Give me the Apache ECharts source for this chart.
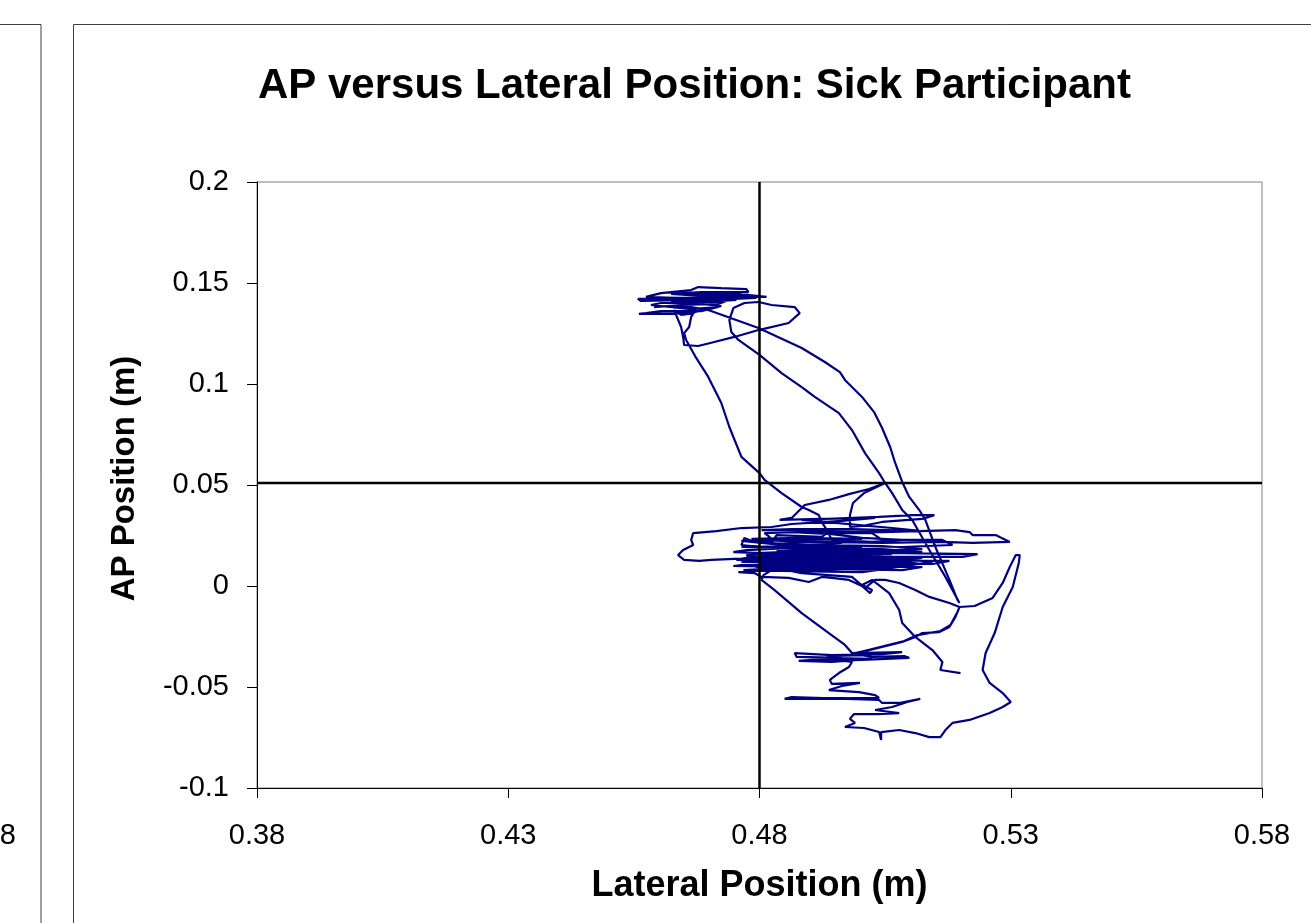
<!DOCTYPE html>
<html>
<head>
<meta charset="utf-8">
<title>AP versus Lateral Position: Sick Participant</title>
<script src="https://cdn.jsdelivr.net/npm/echarts@6/dist/echarts.min.js"></script>
<style>
  html, body { margin: 0; padding: 0; background: #fff; }
  #main { width: 1311px; height: 923px; }
</style>
</head>
<body>
<div id="main"></div>
<script>
// tick labels
var xTicks = [0.38, 0.43, 0.48, 0.53, 0.58];
var yTicks = [-0.1, -0.05, 0, 0.05, 0.1, 0.15, 0.2];

// reference cross (lateral 0.48, AP 0.051)
var crossLateral = 0.48;
var crossAP = 0.051;

// trajectory, [lateral, AP] in metres, in drawing order
var startTail = [[0.5200,-0.0431],[0.5160,-0.0416],[0.5164,-0.0376],[0.5144,-0.0317],[0.5110,-0.0252],[0.5084,-0.0183],[0.5078,-0.0119],[0.5058,-0.0035],[0.5024,0.0030]];

var centreA = [[0.5004,0.0005],[0.5024,-0.0020],[0.5020,-0.0035],[0.5004,0.0000],[0.4978,0.0030],[0.4944,0.0040],[0.4924,0.0045],[0.4898,0.0020],[0.4858,0.0040],[0.4804,0.0045],[0.4790,0.0064],[0.4758,0.0069],[0.4804,0.0079],[0.4944,0.0084],[0.5084,0.0079],[0.5124,0.0094],[0.4984,0.0099],[0.4864,0.0094],[0.4748,0.0099],[0.4764,0.0104],[0.4884,0.0109],[0.5024,0.0114],[0.5144,0.0109],[0.5178,0.0124],[0.5004,0.0129],[0.4844,0.0124],[0.4754,0.0129],[0.4784,0.0144],[0.4924,0.0149],[0.5064,0.0144],[0.5204,0.0144],[0.5234,0.0158],[0.5084,0.0163],[0.4944,0.0168],[0.4804,0.0163],[0.4748,0.0168],[0.4774,0.0178],[0.4864,0.0188],[0.4984,0.0198],[0.5084,0.0193],[0.5184,0.0203],[0.5164,0.0228],[0.5044,0.0228],[0.5024,0.0262],[0.4934,0.0262],[0.4924,0.0243],[0.4834,0.0252],[0.4824,0.0213],[0.4884,0.0203],[0.5004,0.0183],[0.5104,0.0173],[0.5024,0.0153],[0.4884,0.0144],[0.4814,0.0139],[0.4864,0.0129],[0.4984,0.0119],[0.5044,0.0104],[0.4944,0.0099],[0.4844,0.0104]];

// dense core of the central cluster
var centreD = [[0.4814,0.0084],[0.5064,0.0084],[0.5044,0.0094],[0.4794,0.0094],[0.4784,0.0104],[0.5004,0.0104],[0.5084,0.0109],[0.4834,0.0114],[0.4774,0.0119],[0.4964,0.0119],[0.5104,0.0124],[0.4884,0.0129],[0.4790,0.0134],[0.5044,0.0134],[0.5124,0.0139],[0.4944,0.0144],[0.4804,0.0149],[0.4864,0.0153],[0.5064,0.0158],[0.4924,0.0158],[0.4794,0.0163],[0.4844,0.0168],[0.5024,0.0173],[0.5084,0.0178],[0.4904,0.0183],[0.4814,0.0188],[0.4884,0.0193],[0.5004,0.0188],[0.4944,0.0178],[0.4834,0.0173],[0.4904,0.0163],[0.5044,0.0153],[0.4964,0.0144],[0.4824,0.0139],[0.4924,0.0129],[0.5084,0.0124],[0.5004,0.0114],[0.4854,0.0109],[0.4824,0.0099],[0.4984,0.0094],[0.4904,0.0089],[0.4824,0.0079],[0.4808,0.0054],[0.4804,0.0030]];

var diagDown = [[0.4830,-0.0020],[0.4884,-0.0134],[0.4938,-0.0233],[0.4970,-0.0292],[0.4984,-0.0332]];

var lowCluster = [[0.5084,-0.0327],[0.5044,-0.0337],[0.4944,-0.0342],[0.4870,-0.0332],[0.4874,-0.0351],[0.4964,-0.0356],[0.4934,-0.0347],[0.5004,-0.0342],[0.5024,-0.0351],[0.5088,-0.0347],[0.5098,-0.0356],[0.5004,-0.0366],[0.4904,-0.0366],[0.4878,-0.0371],[0.4944,-0.0376],[0.5024,-0.0361],[0.4924,-0.0356],[0.4984,-0.0376]];

var lowerLobe = [[0.4978,-0.0401],[0.4958,-0.0431],[0.4940,-0.0465],[0.4944,-0.0485],[0.5000,-0.0480],[0.4964,-0.0495],[0.4938,-0.0515],[0.4998,-0.0525],[0.5030,-0.0540],[0.5038,-0.0554],[0.4850,-0.0559],[0.4864,-0.0550],[0.5038,-0.0564],[0.5044,-0.0579],[0.5078,-0.0579],[0.5120,-0.0559],[0.5094,-0.0574],[0.5064,-0.0599],[0.5030,-0.0614],[0.5078,-0.0629],[0.5034,-0.0634],[0.4988,-0.0634],[0.4980,-0.0658],[0.4990,-0.0678],[0.4970,-0.0698],[0.5008,-0.0703],[0.5038,-0.0723],[0.5042,-0.0762],[0.5042,-0.0723],[0.5078,-0.0713],[0.5110,-0.0728],[0.5138,-0.0748],[0.5160,-0.0748],[0.5170,-0.0713],[0.5184,-0.0678],[0.5218,-0.0663],[0.5258,-0.0629],[0.5284,-0.0599],[0.5300,-0.0574],[0.5284,-0.0530],[0.5258,-0.0480],[0.5244,-0.0416],[0.5250,-0.0332],[0.5268,-0.0233],[0.5284,-0.0104],[0.5304,-0.0005],[0.5316,0.0114],[0.5318,0.0153],[0.5310,0.0153],[0.5298,0.0094],[0.5284,0.0015],[0.5264,-0.0059],[0.5228,-0.0099],[0.5198,-0.0104]];

var junctionLeft = [[0.5190,-0.0153],[0.5178,-0.0203],[0.5158,-0.0228],[0.5124,-0.0233],[0.5110,-0.0252],[0.5084,-0.0277],[0.5044,-0.0302],[0.5004,-0.0327],[0.4984,-0.0337],[0.5008,-0.0322],[0.5048,-0.0297],[0.5088,-0.0272],[0.5114,-0.0243],[0.5160,-0.0223],[0.5180,-0.0193],[0.5194,-0.0129],[0.5198,-0.0104]];

var upToCentre = [[0.5178,-0.0084],[0.5138,-0.0054],[0.5110,-0.0020],[0.5078,0.0015],[0.5050,0.0030]];

var centreB = [[0.5030,0.0030],[0.5010,-0.0010],[0.4984,0.0045],[0.4884,0.0064],[0.4864,0.0074],[0.5004,0.0069],[0.5064,0.0089],[0.5144,0.0119],[0.5084,0.0134],[0.4964,0.0139],[0.4844,0.0149],[0.4804,0.0153],[0.4884,0.0163],[0.5044,0.0178],[0.5124,0.0183],[0.5044,0.0198],[0.4924,0.0203],[0.4824,0.0208],[0.4764,0.0223],[0.4904,0.0228],[0.5004,0.0233],[0.4884,0.0238],[0.4784,0.0233],[0.4844,0.0223],[0.4964,0.0213],[0.4864,0.0198],[0.4764,0.0193],[0.4924,0.0188],[0.4824,0.0208],[0.4924,0.0218],[0.5044,0.0213],[0.5164,0.0218],[0.5224,0.0213],[0.5298,0.0218],[0.5270,0.0252],[0.5224,0.0252],[0.5218,0.0267],[0.5190,0.0277],[0.5044,0.0267],[0.4904,0.0272],[0.4804,0.0277],[0.4864,0.0282],[0.4984,0.0282],[0.5124,0.0272],[0.5064,0.0287],[0.4884,0.0327],[0.5038,0.0342],[0.5104,0.0351],[0.5148,0.0351],[0.5124,0.0332],[0.5044,0.0317],[0.5004,0.0297],[0.4980,0.0292],[0.4980,0.0351],[0.4986,0.0411],[0.5008,0.0460],[0.5050,0.0510]];

var pathADown = [[0.5064,0.0460],[0.5084,0.0376],[0.5104,0.0327],[0.5138,0.0178],[0.5170,0.0045],[0.5198,-0.0084]];

var pathBUp = [[0.5194,-0.0069],[0.5178,0.0030],[0.5150,0.0193],[0.5130,0.0327],[0.5118,0.0376],[0.5098,0.0441],[0.5084,0.0515],[0.5070,0.0609],[0.5060,0.0688],[0.5044,0.0782],[0.5028,0.0861],[0.5004,0.0936],[0.4970,0.1020],[0.4960,0.1059],[0.4930,0.1109],[0.4884,0.1178],[0.4798,0.1277],[0.4698,0.1366]];

var topA = [[0.4664,0.1381],[0.4604,0.1386],[0.4590,0.1381],[0.4644,0.1391],[0.4718,0.1396],[0.4734,0.1411],[0.4664,0.1416],[0.4564,0.1411],[0.4558,0.1421],[0.4644,0.1426],[0.4764,0.1431],[0.4814,0.1431],[0.4774,0.1441],[0.4684,0.1436],[0.4624,0.1446],[0.4684,0.1455],[0.4778,0.1455],[0.4774,0.1470],[0.4724,0.1475],[0.4678,0.1480],[0.4664,0.1465],[0.4604,0.1450],[0.4574,0.1431],[0.4684,0.1421],[0.4754,0.1416],[0.4694,0.1406],[0.4604,0.1401],[0.4584,0.1391],[0.4664,0.1371],[0.4718,0.1381],[0.4684,0.1361],[0.4604,0.1361],[0.4574,0.1351],[0.4560,0.1347],[0.4670,0.1351],[0.4644,0.1342],[0.4630,0.1366]];

var loopB = [[0.4644,0.1282],[0.4648,0.1233],[0.4650,0.1193],[0.4678,0.1188],[0.4710,0.1208],[0.4750,0.1233],[0.4798,0.1267],[0.4858,0.1302],[0.4880,0.1351],[0.4870,0.1381],[0.4824,0.1391],[0.4798,0.1406],[0.4770,0.1401],[0.4748,0.1376],[0.4740,0.1317],[0.4744,0.1257],[0.4758,0.1218]];

var pathCDown = [[0.4800,0.1144],[0.4844,0.1054],[0.4884,0.0985],[0.4910,0.0936],[0.4958,0.0856],[0.4984,0.0772],[0.5010,0.0658],[0.5038,0.0559],[0.5050,0.0510]];

var cap = [[0.5018,0.0480],[0.4978,0.0455],[0.4938,0.0426],[0.4890,0.0401],[0.4874,0.0361]];

var centreC = [[0.4864,0.0337],[0.4840,0.0327],[0.4924,0.0332],[0.5030,0.0337],[0.4964,0.0322],[0.4864,0.0307],[0.4824,0.0292],[0.4764,0.0287],[0.4714,0.0272],[0.4668,0.0262],[0.4664,0.0228],[0.4668,0.0203],[0.4648,0.0178],[0.4638,0.0153],[0.4650,0.0129],[0.4680,0.0124],[0.4704,0.0129],[0.4750,0.0134],[0.4844,0.0139],[0.4984,0.0149],[0.5044,0.0149],[0.4924,0.0139],[0.4804,0.0134],[0.4764,0.0119],[0.4884,0.0114],[0.5084,0.0119],[0.5124,0.0109],[0.5004,0.0099],[0.4844,0.0089],[0.4768,0.0079],[0.4874,0.0074],[0.4984,0.0084],[0.4924,0.0104],[0.4804,0.0114],[0.4774,0.0153],[0.4864,0.0168],[0.5004,0.0173],[0.5124,0.0168],[0.5044,0.0183],[0.4884,0.0183],[0.4804,0.0193],[0.4764,0.0203],[0.4770,0.0238],[0.4790,0.0218],[0.4824,0.0213],[0.4820,0.0243],[0.4810,0.0262],[0.4864,0.0267],[0.4944,0.0257],[0.5004,0.0238],[0.5084,0.0228],[0.5024,0.0218],[0.4944,0.0228],[0.4934,0.0277],[0.4924,0.0317],[0.4918,0.0351]];

var ldUp = [[0.4898,0.0376],[0.4884,0.0391],[0.4844,0.0460],[0.4810,0.0525],[0.4800,0.0559],[0.4764,0.0639],[0.4740,0.0787],[0.4724,0.0906],[0.4698,0.1035],[0.4674,0.1129],[0.4654,0.1218],[0.4650,0.1252],[0.4660,0.1282],[0.4664,0.1332]];

var topB = [[0.4670,0.1356],[0.4724,0.1386],[0.4684,0.1396],[0.4624,0.1406],[0.4704,0.1416],[0.4794,0.1426],[0.4744,0.1436],[0.4664,0.1441],[0.4714,0.1450],[0.4764,0.1446],[0.4724,0.1431],[0.4654,0.1421]];

var trajectory = [].concat(startTail, centreA, centreD, diagDown, lowCluster, lowerLobe, junctionLeft,
  upToCentre, centreB, pathADown, pathBUp, topA, loopB, pathCDown, cap, centreC, ldUp, topB);

var FONT = '"Liberation Sans", Arial, sans-serif';

var chartDom = document.getElementById('main');
var myChart = echarts.init(chartDom);
var option = {
  animation: false,
  backgroundColor: '#ffffff',
  title: {
    text: 'AP versus Lateral Position: Sick Participant',
    left: 253,
    top: 60,
    textStyle: { fontFamily: FONT, fontSize: 42, fontWeight: 'bold', color: '#000' }
  },
  // chart frames (this one and the edge of the neighbouring chart)
  graphic: [
    { type: 'rect', shape: { x: -20, y: 24.5, width: 61, height: 1000 },
      style: { fill: 'none', stroke: '#404040', lineWidth: 1 } },
    { type: 'rect', shape: { x: 73.5, y: 24.5, width: 1300, height: 1000 },
      style: { fill: 'none', stroke: '#404040', lineWidth: 1 } },
    { type: 'text', right: 1295, top: 821,
      style: { text: '0.58', font: '29px ' + FONT, fill: '#000' } }
  ],
  grid: {
    left: 257, right: 49, top: 182, bottom: 135,
    show: true, borderColor: '#808080', borderWidth: 1
  },
  xAxis: {
    type: 'value',
    min: 0.38, max: 0.58,
    name: 'Lateral Position (m)',
    nameLocation: 'middle',
    nameGap: 80,
    nameTextStyle: { fontFamily: FONT, fontSize: 36, fontWeight: 'bold', color: '#000' },
    axisLine: { show: true, onZero: false, lineStyle: { color: '#000', width: 1 } },
    axisTick: { show: true, inside: false, length: 10, customValues: xTicks, lineStyle: { color: '#000' } },
    axisLabel: {
      customValues: xTicks, margin: 33,
      fontFamily: FONT, fontSize: 29, color: '#000',
      formatter: function (v) { return v.toFixed(2); }
    },
    splitLine: { show: false }
  },
  yAxis: {
    type: 'value',
    min: -0.1, max: 0.2, interval: 0.05,
    name: 'AP Position (m)',
    nameLocation: 'middle',
    nameGap: 116,
    nameTextStyle: { fontFamily: FONT, fontSize: 33, fontWeight: 'bold', color: '#000', padding: [0, 0, 0, 13] },
    axisLine: { show: true, onZero: false, lineStyle: { color: '#000', width: 1 } },
    axisTick: { show: true, inside: false, length: 10, customValues: yTicks, lineStyle: { color: '#000' } },
    axisLabel: {
      customValues: yTicks, margin: 28,
      fontFamily: FONT, fontSize: 29, color: '#000'
    },
    splitLine: { show: false }
  },
  series: [
    {
      name: 'trajectory',
      type: 'line',
      data: trajectory,
      showSymbol: false,
      symbol: 'none',
      lineStyle: { color: '#000080', width: 2.2 },
      z: 2
    },
    {
      name: 'vertical',
      type: 'line',
      data: [[crossLateral, -0.1], [crossLateral, 0.2]],
      showSymbol: false,
      symbol: 'none',
      lineStyle: { color: '#000', width: 2.5 },
      z: 3
    },
    {
      name: 'horizontal',
      type: 'line',
      data: [[0.38, crossAP], [0.58, crossAP]],
      showSymbol: false,
      symbol: 'none',
      lineStyle: { color: '#000', width: 2.5 },
      z: 3
    }
  ]
};
option && myChart.setOption(option);
</script>
</body>
</html>
